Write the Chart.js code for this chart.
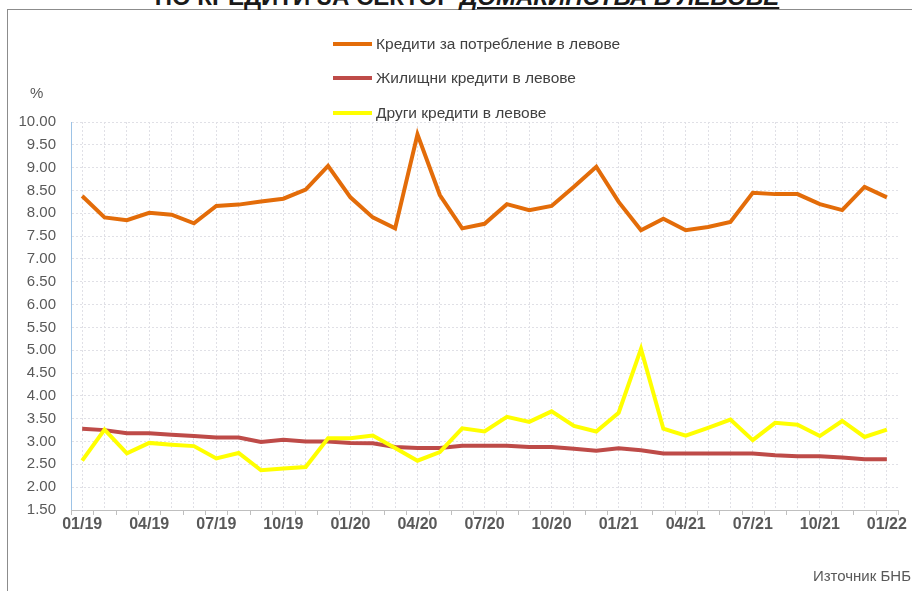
<!DOCTYPE html>
<html>
<head>
<meta charset="utf-8">
<script src="https://cdn.jsdelivr.net/npm/chart.js@4/dist/chart.umd.min.js"></script>
<style>
    body { margin: 0; background: #ffffff; font-family: "Liberation Sans", Arial, sans-serif; }
    #wrap { position: relative; width: 912px; height: 591px; overflow: hidden; background: #ffffff; }
    #frame { position: absolute; left: 7px; top: 9px; width: 1000px; height: 700px; border: 1px solid #8c8c8c; }
    #title { position: absolute; left: 0; width: 934px; top: -15px; text-align: center; font-weight: bold; font-size: 24px; line-height: 24px; color: #1a1a1a; white-space: nowrap; }
    #title span { text-decoration: underline; font-style: italic; }
    #chart { position: absolute; left: 0; top: 0; }
    #unit { position: absolute; left: 30px; top: 84px; font-size: 15px; color: #595959; }
    #source { position: absolute; right: 1px; top: 567px; font-size: 15px; color: #595959; }
    .leg { position: absolute; left: 333px; height: 20px; font-size: 15.5px; color: #404040; white-space: nowrap; }
    .leg i { position: absolute; left: 0; top: 8px; width: 39px; height: 4px; }
    .leg b { position: absolute; left: 43px; top: 1px; font-weight: normal; }
</style>
</head>
<body>
<div id="wrap">
    <div id="frame"></div>
    <div id="title">ПО КРЕДИТИ ЗА СЕКТОР <span>ДОМАКИНСТВА В ЛЕВОВЕ</span></div>
    <canvas id="chart" width="912" height="591"></canvas>
    <div id="unit">%</div>
    <div id="legend"></div>
    <div id="source">Източник БНБ</div>
</div>
<script>
const months = ['01/19', '02/19', '03/19', '04/19', '05/19', '06/19', '07/19', '08/19', '09/19', '10/19', '11/19', '12/19',
    '01/20', '02/20', '03/20', '04/20', '05/20', '06/20', '07/20', '08/20', '09/20', '10/20', '11/20', '12/20',
    '01/21', '02/21', '03/21', '04/21', '05/21', '06/21', '07/21', '08/21', '09/21', '10/21', '11/21', '12/21',
    '01/22'];

const seriesNames = ['Кредити за потребление в левове', 'Жилищни кредити в левове', 'Други кредити в левове'];

const consumer = [8.38, 7.91, 7.85, 8.01, 7.97, 7.78, 8.16, 8.19, 8.26, 8.32, 8.52, 9.04,
    8.35, 7.91, 7.67, 9.73, 8.40, 7.67, 7.77, 8.20, 8.07, 8.16, 8.58, 9.02,
    8.25, 7.63, 7.88, 7.63, 7.70, 7.81, 8.45, 8.42, 8.42, 8.20, 8.07, 8.58,
    8.35];

const housing = [3.28, 3.25, 3.18, 3.18, 3.15, 3.12, 3.09, 3.09, 2.99, 3.04, 3.00, 3.00,
    2.97, 2.96, 2.88, 2.86, 2.86, 2.91, 2.91, 2.91, 2.88, 2.88, 2.84, 2.80,
    2.85, 2.81, 2.74, 2.74, 2.74, 2.74, 2.74, 2.70, 2.68, 2.68, 2.65, 2.61,
    2.61];

const other = [2.58, 3.26, 2.74, 2.97, 2.93, 2.90, 2.63, 2.75, 2.37, 2.41, 2.44, 3.07,
    3.07, 3.13, 2.86, 2.58, 2.77, 3.29, 3.22, 3.54, 3.43, 3.66, 3.34, 3.22,
    3.63, 5.03, 3.28, 3.13, 3.30, 3.48, 3.03, 3.41, 3.37, 3.12, 3.45, 3.10,
    3.26];

const colors = ['#E36C09', '#BE4B48', '#FFFF00'];

// small tick marks between the months, like the excel original
const boundaryTicks = {
    id: 'boundaryTicks',
    afterDraw(chart) {
        const x = chart.scales.x;
        const ctx = chart.ctx;
        const step = x.width / months.length;
        ctx.save();
        ctx.strokeStyle = '#bfbfbf';
        ctx.lineWidth = 1;
        ctx.beginPath();
        for (let i = 0; i <= months.length; i++) {
            const px = Math.round(x.left + i * step) + 0.5;
            ctx.moveTo(px, x.top);
            ctx.lineTo(px, x.top + 5);
        }
        ctx.stroke();
        ctx.restore();
    }
};

const datasets = [consumer, housing, other].map((values, i) => ({
    label: seriesNames[i],
    data: values,
    borderColor: colors[i],
    backgroundColor: colors[i],
    borderWidth: 4,
    pointRadius: 0,
    tension: 0,
    order: [0, 2, 1][i]
}));

const ctx = document.getElementById('chart').getContext('2d');
const myChart = new Chart(ctx, {
    type: 'line',
    data: { labels: months, datasets: datasets },
    options: {
        responsive: false,
        animation: false,
        layout: { autoPadding: false, padding: { left: 0, top: 122, right: 7, bottom: 0 } },
        plugins: { legend: { display: false }, tooltip: { enabled: false } },
        scales: {
            x: {
                offset: true,
                grid: { offset: false, color: '#e0e0e6', drawTicks: false },
                border: { color: '#bfbfbf', dash: [2, 2] },
                ticks: {
                    autoSkip: false,
                    maxRotation: 0,
                    padding: 5,
                    color: '#595959',
                    font: { family: 'Liberation Sans', size: 16, weight: 'bold' },
                    callback: (v, i) => (i % 3 === 0 ? months[i] : '')
                },
                afterFit: (scale) => { scale.height = 81; }
            },
            y: {
                min: 1.5,
                max: 10,
                grid: { color: '#e0e0e6', drawTicks: false },
                border: { color: '#9dc3e6', dash: [2, 2] },
                ticks: {
                    stepSize: 0.5,
                    padding: 15,
                    color: '#595959',
                    font: { family: 'Liberation Sans', size: 15 },
                    callback: (v) => v.toFixed(2)
                },
                afterFit: (scale) => { scale.width = 71; }
            }
        }
    },
    plugins: [boundaryTicks]
});

// legend over the plot, one row per series
const legend = document.getElementById('legend');
const rowTops = [34, 68, 103];
datasets.forEach((ds, i) => {
    const row = document.createElement('div');
    row.className = 'leg';
    row.style.top = rowTops[i] + 'px';
    const line = document.createElement('i');
    line.style.background = ds.borderColor;
    const text = document.createElement('b');
    text.textContent = ds.label;
    row.appendChild(line);
    row.appendChild(text);
    legend.appendChild(row);
});
</script>
</body>
</html>
